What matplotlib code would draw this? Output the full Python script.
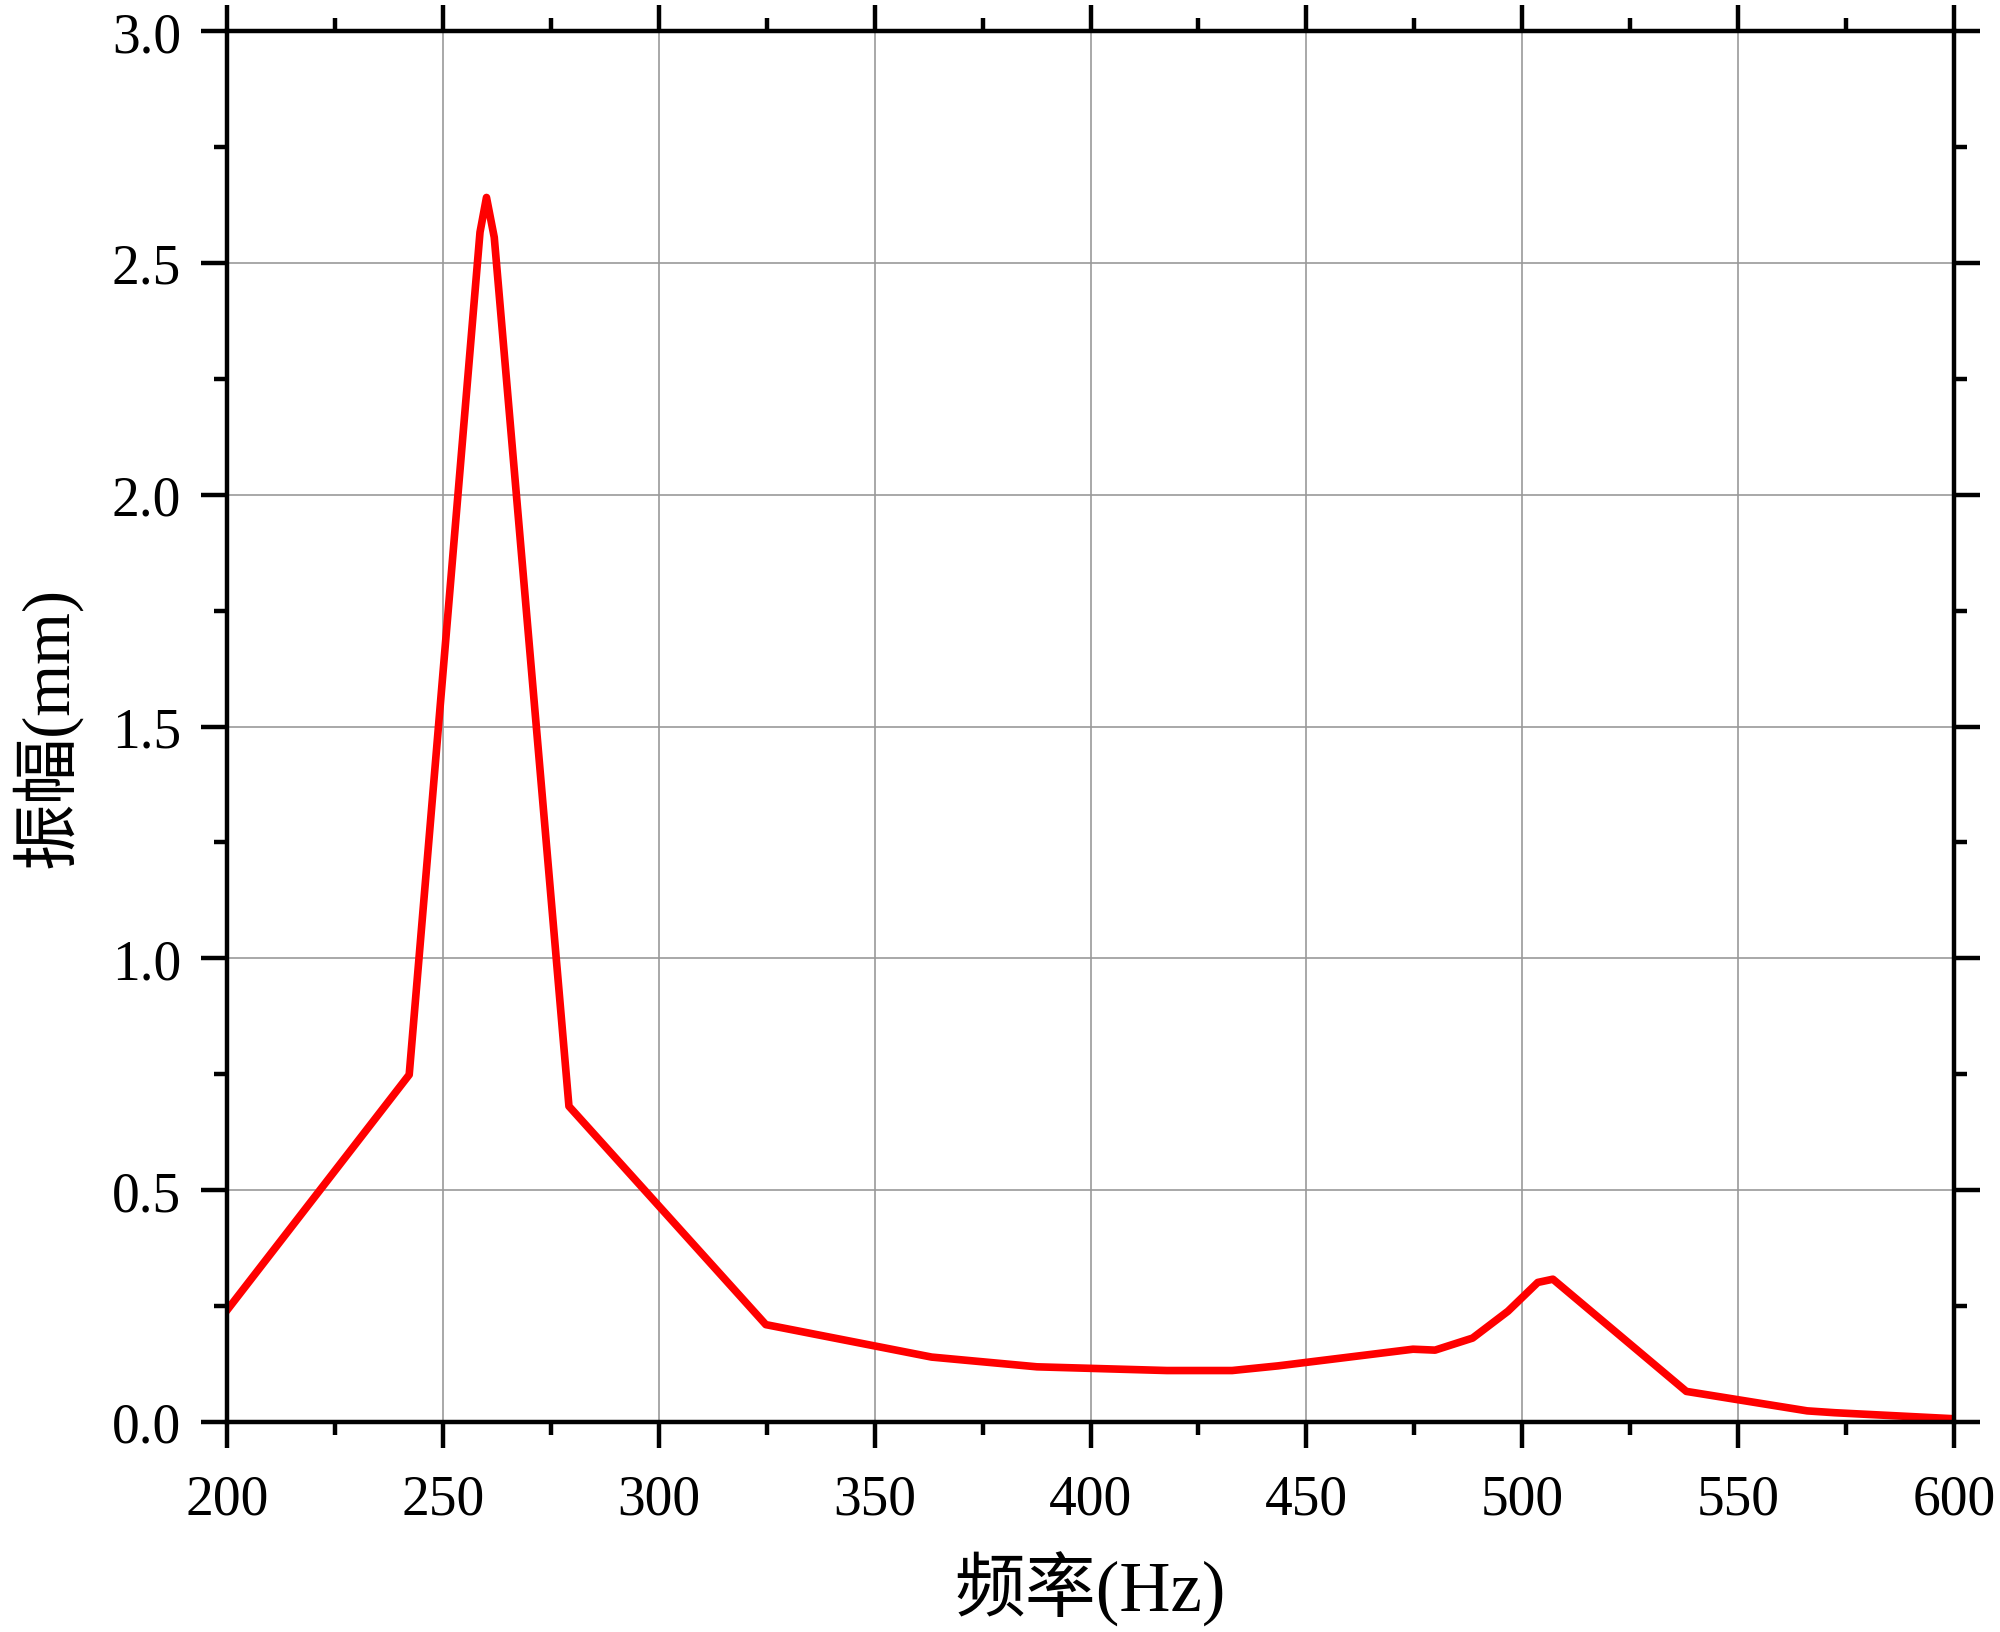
import matplotlib
matplotlib.use('Agg')
import matplotlib.pyplot as plt
from matplotlib.ticker import MultipleLocator

plt.rcParams['font.family'] = ['Liberation Serif', 'Noto Sans CJK SC', 'DejaVu Sans']

# 频率 / 振幅 读图数据
freq = [200, 242.2, 258.6, 260.1, 261.9, 279.2, 324.8, 363.2, 387.6, 417.7, 432.8,
        443.4, 474.7, 479.8, 488.5, 496.7, 503.6, 507.1, 538.0, 566.0, 572.4, 600]
amp = [0.241, 0.749, 2.566, 2.641, 2.555, 0.681, 0.210, 0.140, 0.119, 0.111, 0.111,
       0.121, 0.157, 0.155, 0.181, 0.239, 0.301, 0.308, 0.066, 0.024, 0.020, 0.007]

xlabel = '频率(Hz)'
ylabel = '振幅(mm)'

fig = plt.figure(figsize=(20, 16.33), dpi=100)
ax = fig.add_axes([0.1135, 0.1286, 0.8635, 0.8518])

ax.plot(freq, amp, color='#ff0000', linewidth=5.5, solid_joinstyle='round', zorder=3)

ax.set_xlim(200, 600)
ax.set_ylim(0, 3.0)
ax.xaxis.set_major_locator(MultipleLocator(50))
ax.xaxis.set_minor_locator(MultipleLocator(25))
ax.yaxis.set_major_locator(MultipleLocator(0.5))
ax.yaxis.set_minor_locator(MultipleLocator(0.25))
ax.yaxis.set_major_formatter(plt.FormatStrFormatter('%.1f'))

ax.grid(True, which='major', color='#999999', linewidth=1.2)

for s in ax.spines.values():
    s.set_linewidth(3.2)
    s.set_zorder(4)

ax.tick_params(which='both', direction='out', top=True, right=True, width=3.2)
ax.tick_params(which='major', length=19, labelsize=40)
ax.tick_params(axis='x', which='major', pad=18)
ax.tick_params(axis='y', which='major', pad=14)
ax.tick_params(which='minor', length=9.5)

ax.set_xlabel(xlabel, fontsize=51, labelpad=18)
ax.set_ylabel(ylabel, fontsize=48, labelpad=22)

fig.savefig('out.png', dpi=100)
